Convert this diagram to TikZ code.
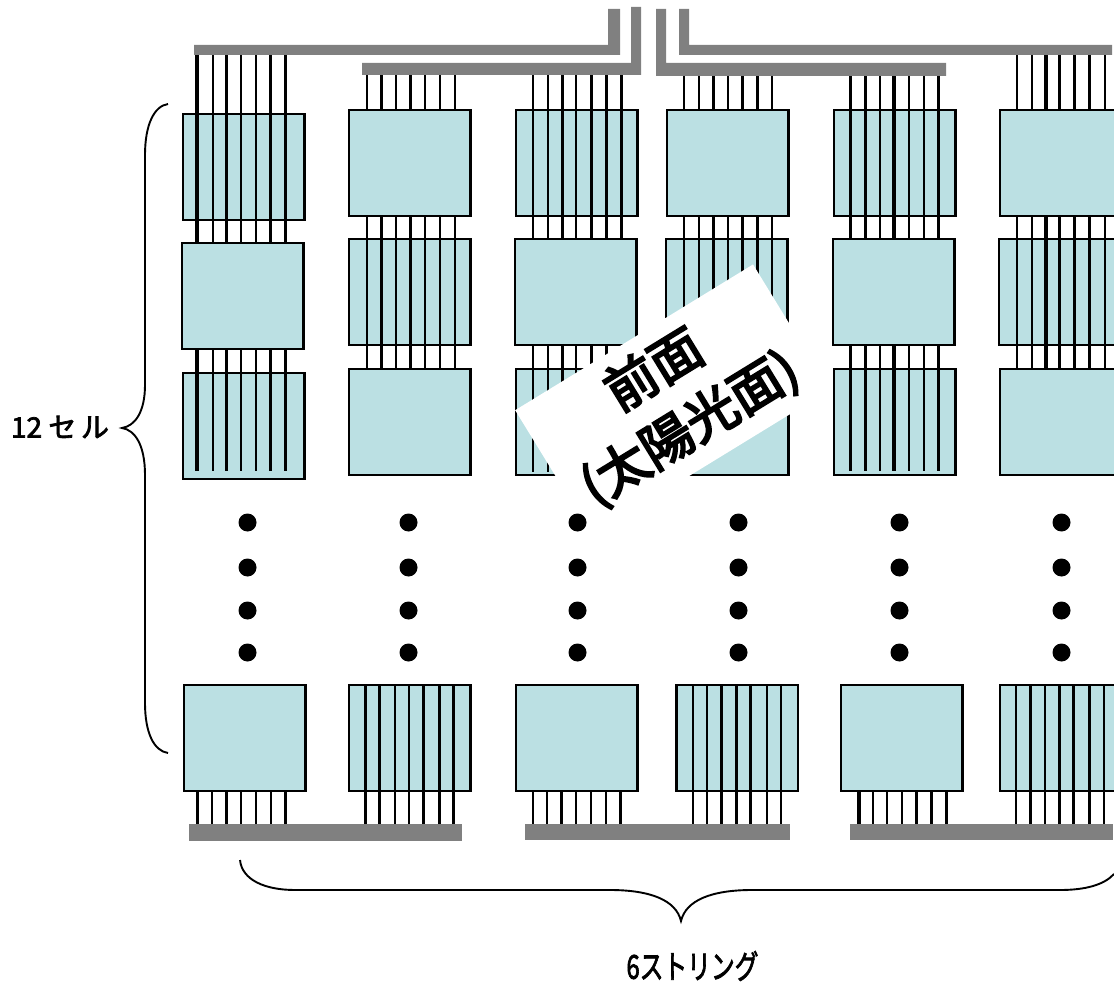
\documentclass[tikz,border=0pt]{standalone}
\usepackage{fontspec}
\newfontfamily\cjk[FakeBold=2.5]{Noto Sans CJK JP}
\newfontfamily\cjkheavy[FakeBold=4]{Noto Sans CJK JP}
\usetikzlibrary{positioning}
\definecolor{cellblue}{HTML}{BBE0E3}
\definecolor{busgray}{HTML}{808080}
\tikzstyle{cell} = [rectangle, anchor=north west, inner sep=0pt, outer sep=0pt, minimum width=121.5pt, minimum height=106pt, fill=cellblue, draw=black, line width=2.6pt]
\tikzstyle{bus} = [fill=busgray, draw=none]
\tikzstyle{dotmark} = [circle, fill=black, inner sep=0pt, minimum size=18pt]
\tikzstyle{brace} = [line width=1.9pt]
% wire x positions / widths of each column
\def\colA{197/3.4, 213/2.5, 226.5/3.4, 241/2.5, 256/2.5, 270.5/3.4, 285.5/3.2}
\def\colB{367/2.5, 381.5/3.2, 396/2.5, 410.5/3.2, 425/2.5, 440/2.5, 455/2.5}
\def\colC{533/2.5, 548/2.5, 562.5/3.2, 576/2.5, 591.5/3.2, 606.5/3.2, 621.5/3.2}
\def\colD{684/2.5, 699/2.5, 713.5/3.2, 728/2.5, 742.5/3.2, 757.5/3.2, 772/2.5}
\def\colE{850.5/3.2, 865.5/3.2, 880/2.5, 894/3.2, 909/2.5, 924/2.5, 938.5/3.2}
\def\colF{1017/2.5, 1032/2.5, 1046/3.2, 1059.5/2.5, 1074.5/3.2, 1089.5/3.2, 1105/2.5}
\def\botA{197.5/3.4, 212/2.5, 226.5/3.4, 241/2.5, 256/2.5, 271/2.5, 285.5/3.2}
\def\botB{365.5/3.2, 379.5/3.2, 395/2.5, 409/2.5, 423.5/3.2, 439.5/3.2, 453.5/3.2}
\def\botC{533/2.5, 547/2.5, 561.5/3.2, 576/2.5, 591/2.5, 606/2.5, 620.5/3.2}
\def\botD{693/2.5, 707/2.5, 721.5/3.2, 736.5/3.2, 750.5/3.2, 767/2.5, 781/2.5}
\def\botE{859/3.2, 873/2.5, 887/2.5, 902/2.5, 916.5/2.5, 931.5/3.2, 946.5/3.2}
\def\botF{1016/2.5, 1030.5/3.2, 1045/2.5, 1059.5/3.2, 1073.5/2.5, 1089.5/3.2, 1104/2.5}
\newcommand{\wireset}[3]{
  \foreach \x/\w in #1 {\draw[line width=\w pt] (\x,#2) -- (\x,#3);}
}

\begin{document}
\begin{tikzpicture}[x=1pt, y=-1pt]
  \useasboundingbox (0,0) rectangle (1114,984);

  % top row of cells
  \node (a1) [cell] at (183,114) {};
  \node (b1) [cell] at (349,110) {};
  \node (c1) [cell] at (516,110) {};
  \node (d1) [cell] at (667,110) {};
  \node (e1) [cell] at (834,110) {};
  \node (f1) [cell] at (1000,110) {};
  \node (a2) [cell] at (182,243) {};
  \node (b2) [cell] at (349,239) {};
  \node (c2) [cell] at (515,239) {};
  \node (d2) [cell] at (666,239) {};
  \node (e2) [cell] at (833,239) {};
  \node (f2) [cell] at (999,239) {};
  \node (a3) [cell] at (183,373) {};
  \node (b3) [cell] at (349,369) {};
  \node (c3) [cell] at (516,369) {};
  \node (d3) [cell] at (667,369) {};
  \node (e3) [cell] at (834,369) {};
  \node (f3) [cell] at (1000,369) {};
  % bottom row
  \node (a4) [cell] at (184,685) {};
  \node (b4) [cell] at (349,685) {};
  \node (c4) [cell] at (516,685) {};
  \node (d4) [cell] at (676.5,685) {};
  \node (e4) [cell] at (841,685) {};
  \node (f4) [cell] at (1000,685) {};

  \wireset{\colA}{55}{243}
  \wireset{\colA}{349}{471}
  \wireset{\colB}{75}{110}
  \wireset{\colB}{216}{369}
  \wireset{\colC}{75}{239}
  \wireset{\colC}{345}{472}
  \wireset{\colD}{76}{110}
  \wireset{\colD}{216}{369}
  \wireset{\colE}{76}{239}
  \wireset{\colE}{345}{471}
  \wireset{\colF}{55}{110}
  \wireset{\colF}{216}{369}
  \wireset{\botA}{791}{824}
  \wireset{\botB}{685}{824}
  \wireset{\botC}{791}{824}
  \wireset{\botD}{685}{824}
  \wireset{\botE}{791}{824}
  \wireset{\botF}{685}{824}

  % collector bars
  \fill[bus] (194,45) -- (608,45) -- (608,9) -- (620,9) -- (620,55) -- (194,55) -- cycle;
  \fill[bus] (362,63) -- (631,63) -- (631,7) -- (641,7) -- (641,75) -- (362,75) -- cycle;
  \fill[bus] (656,9) -- (666,9) -- (666,63) -- (946,63) -- (946,76) -- (656,76) -- cycle;
  \fill[bus] (679,9) -- (689,9) -- (689,45) -- (1112,45) -- (1112,55) -- (679,55) -- cycle;
  \fill[bus] (189,824) rectangle (462,841);
  \fill[bus] (525,824) rectangle (790,840);
  \fill[bus] (850,824) rectangle (1113,840);

  \node (front) [rotate=31.5, fill=white, minimum width=279pt, minimum height=147pt, inner sep=0pt, align=center,
    font=\cjkheavy\fontsize{52}{68}\selectfont] at (672.5,400) {前面\\(太陽光面)};

  \foreach \x [count=\i] in {247.5,408.5,577.5,738.5,899.5,1061.5} {
    \foreach \y [count=\j] in {522.5,567.5,610.5,652.5} {
      \node (dot\i\j) [dotmark] at (\x,\y) {};
    }
  }

  \coordinate (lt) at (168,104);
  \coordinate (lb) at (168,753);
  \coordinate (ltip) at (122,428);
  \draw[brace] (lt) .. controls (154,106) and (145,125) .. (145,155) -- (145,385)
    .. controls (145,412) and (135,426) .. (ltip)
    .. controls (135,430) and (145,445) .. (145,475) -- (145,703)
    .. controls (145,733) and (154,751) .. (lb);
  \coordinate (bl) at (240,860);
  \coordinate (br) at (1114,874);
  \coordinate (btip) at (681,921);
  \draw[brace] (bl) .. controls (242,880) and (265,890) .. (295,890) -- (610,890)
    .. controls (650,890) and (676,900) .. (btip)
    .. controls (686,900) and (712,890) .. (752,890) -- (1060,890)
    .. controls (1085,890) and (1104,885) .. (br);

  \node (ncell) [font=\cjk\fontsize{28}{30}\selectfont] at (60,427) {12 セ\,ル};
  \node (nstr) [font=\cjk\fontsize{33}{36}\selectfont, xscale=.72] at (692.5,966) {6ストリング};
\end{tikzpicture}
\end{document}
